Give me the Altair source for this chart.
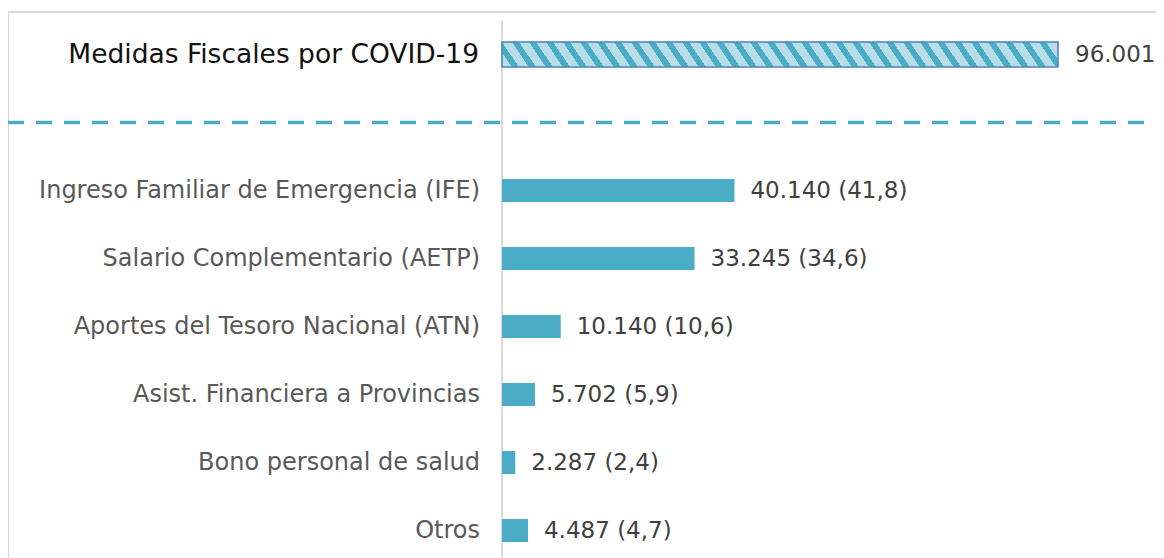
import altair as alt
import pandas as pd

# ---- data ----
categories = [
    "Medidas Fiscales por COVID-19",
    "",  # separator slot (dashed line)
    "Ingreso Familiar de Emergencia (IFE)",
    "Salario Complementario (AETP)",
    "Aportes del Tesoro Nacional (ATN)",
    "Asist. Financiera a Provincias",
    "Bono personal de salud",
    "Otros",
]
values = [96001, None, 40140, 33245, 10140, 5702, 2287, 4487]
shares = [None, None, 41.8, 34.6, 10.6, 5.9, 2.4, 4.7]
kinds = ["total", "sep", "item", "item", "item", "item", "item", "item"]


def fmt_int(v):
    return f"{v:,}".replace(",", ".")


def fmt_pct(s):
    return f"{s:.1f}".replace(".", ",")


rows = []
for i, (c, v, s, k) in enumerate(zip(categories, values, shares, kinds)):
    if k == "sep":
        label = ""
    elif s is None:
        label = fmt_int(v)
    else:
        label = f"{fmt_int(v)} ({fmt_pct(s)})"
    rows.append({"pos": i, "cat": c, "value": v, "label": label, "kind": k})
df = pd.DataFrame(rows)

total_df = df[df.kind == "total"]
item_df = df[df.kind == "item"]
sep_df = df[df.kind == "sep"]

# ---- layout / style ----
W, H = 1148, 550
STEP = 68.0
FIRST = 46.5
y_top = -FIRST / STEP
y_bot = y_top + H / STEP
xscale = alt.Scale(domain=[-85296, 112922], nice=False, zero=False, padding=0)
yscale = alt.Scale(domain=[y_top, y_bot], reverse=True, nice=False, zero=False, padding=0)

AQUA = "#4bacc6"
LIGHT = "#b7dee8"
FONT = "DejaVu Sans"

# diagonal hatch for the total bar, built from a striped linear gradient
barW, barH = 556.0, 25.0
ratio = -(15 * barH) / (22 * barW)
a = 1.04
b = a * ratio
norm = a * a + b * b
period = (17.0 / barW) * a / norm
stops = []
k = 0
while True:
    t0 = k * period
    if t0 >= 1:
        break
    t1 = min(t0 + 0.58 * period, 1.0)
    t2 = min(t0 + period, 1.0)
    stops += [
        alt.GradientStop(color=LIGHT, offset=t0),
        alt.GradientStop(color=LIGHT, offset=t1),
        alt.GradientStop(color=AQUA, offset=t1),
        alt.GradientStop(color=AQUA, offset=t2),
    ]
    k += 1
hatch = alt.LinearGradient(gradient="linear", stops=stops, x1=0, y1=1, x2=a, y2=1 + b)

one = alt.Chart(pd.DataFrame({"z": [0]}))

frame_top = one.mark_rule(color="#d9d9d9", strokeWidth=2).encode(
    x=alt.value(0), x2=alt.value(W), y=alt.value(4)
)
frame_left = one.mark_rule(color="#d9d9d9", strokeWidth=2).encode(
    x=alt.value(0), y=alt.value(4), y2=alt.value(H)
)

axis_line = one.mark_rule(color="#d9d9d9", strokeWidth=2).encode(
    x=alt.datum(0, scale=xscale, axis=None),
    y=alt.datum(-0.5, scale=yscale, axis=None),
    y2=alt.datum(len(categories) - 0.5),
)

sep = alt.Chart(sep_df).mark_rule(color=AQUA, strokeWidth=3.5, strokeDash=[16, 12]).encode(
    x=alt.value(0),
    x2=alt.value(W),
    y=alt.Y("pos:Q", scale=yscale, axis=None),
)

total_bar = alt.Chart(total_df).mark_bar(
    orient="horizontal", size=barH, color=hatch, stroke="#4f81bd", strokeWidth=1.5
).encode(
    x=alt.X("value:Q", scale=xscale, axis=None),
    x2=alt.datum(0),
    y=alt.Y("pos:Q", scale=yscale, axis=None),
)

item_bars = alt.Chart(item_df).mark_bar(orient="horizontal", size=23, color=AQUA).encode(
    x=alt.X("value:Q", scale=xscale, axis=None),
    x2=alt.datum(0),
    y=alt.Y("pos:Q", scale=yscale, axis=None),
)

total_cat = alt.Chart(total_df).mark_text(
    align="right", baseline="middle", dx=-23, font=FONT, fontSize=26.5, color="#111111"
).encode(
    x=alt.datum(0, scale=xscale, axis=None),
    y=alt.Y("pos:Q", scale=yscale, axis=None),
    text="cat:N",
)

item_cat = alt.Chart(item_df).mark_text(
    align="right", baseline="middle", dx=-22, font=FONT, fontSize=24, color="#595959"
).encode(
    x=alt.datum(0, scale=xscale, axis=None),
    y=alt.Y("pos:Q", scale=yscale, axis=None),
    text="cat:N",
)

total_val = alt.Chart(total_df).mark_text(
    align="left", baseline="middle", dx=17, font=FONT, fontSize=23, color="#404040"
).encode(
    x=alt.X("value:Q", scale=xscale, axis=None),
    y=alt.Y("pos:Q", scale=yscale, axis=None),
    text="label:N",
)

item_val = alt.Chart(item_df).mark_text(
    align="left", baseline="middle", dx=16, font=FONT, fontSize=23, color="#404040"
).encode(
    x=alt.X("value:Q", scale=xscale, axis=None),
    y=alt.Y("pos:Q", scale=yscale, axis=None),
    text="label:N",
)

chart = alt.layer(
    frame_top, frame_left, axis_line, sep, total_bar, item_bars,
    total_cat, item_cat, total_val, item_val,
).properties(
    width=W, height=H, padding=0, autosize="none", background="white"
).configure_view(stroke=None)

chart.save("out.html", embed_options={"renderer": "svg", "actions": False})
